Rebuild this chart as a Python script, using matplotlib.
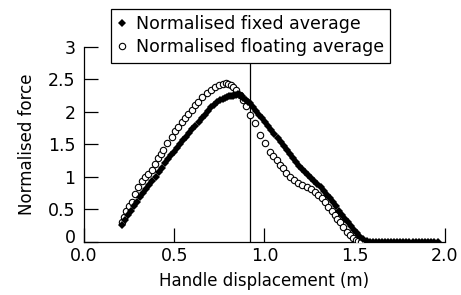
import matplotlib as mpl
mpl.use('Agg')
import matplotlib.pyplot as plt
from matplotlib.ticker import FixedLocator, FixedFormatter
from matplotlib.transforms import ScaledTranslation

# data #########################################

# normalised fixed average (filled diamonds)
fixed_x = [0.210, 0.227, 0.244, 0.261, 0.278, 0.295, 0.312, 0.329, 0.346, 0.363,
           0.380, 0.397, 0.414, 0.431, 0.448, 0.465, 0.482, 0.499, 0.516, 0.533,
           0.550, 0.567, 0.584, 0.601, 0.618, 0.635, 0.652, 0.669, 0.686, 0.703,
           0.720, 0.737, 0.754, 0.768, 0.780, 0.792, 0.804, 0.814, 0.824, 0.834,
           0.844, 0.854, 0.864, 0.874, 0.884, 0.896, 0.908, 0.920, 0.937, 0.954,
           0.971, 0.988, 1.005, 1.022, 1.039, 1.056, 1.073, 1.090, 1.107, 1.124,
           1.141, 1.158, 1.175, 1.192, 1.209, 1.226, 1.243, 1.260, 1.277, 1.294,
           1.311, 1.328, 1.345, 1.362, 1.379, 1.396, 1.413, 1.430, 1.447, 1.464,
           1.481, 1.498, 1.515, 1.532, 1.549, 1.566, 1.583, 1.600, 1.617, 1.634,
           1.651, 1.668, 1.685, 1.702, 1.719, 1.736, 1.753, 1.770, 1.787, 1.804,
           1.821, 1.838, 1.855, 1.872, 1.889, 1.906, 1.923, 1.940, 1.960]
fixed_y = [0.26, 0.33, 0.41, 0.48, 0.55, 0.62, 0.69, 0.75, 0.81, 0.87,
           0.94, 1.00, 1.07, 1.14, 1.21, 1.27, 1.33, 1.39, 1.45, 1.51,
           1.57, 1.62, 1.67, 1.73, 1.79, 1.85, 1.91, 1.96, 2.02, 2.07,
           2.11, 2.15, 2.18, 2.20, 2.21, 2.23, 2.24, 2.24, 2.25, 2.26,
           2.26, 2.27, 2.26, 2.24, 2.22, 2.19, 2.16, 2.13, 2.08, 2.02,
           1.96, 1.90, 1.84, 1.78, 1.72, 1.66, 1.60, 1.53, 1.47, 1.41,
           1.35, 1.29, 1.23, 1.17, 1.12, 1.08, 1.03, 0.99, 0.94, 0.89,
           0.84, 0.78, 0.72, 0.67, 0.61, 0.55, 0.48, 0.42, 0.36, 0.30,
           0.24, 0.18, 0.13, 0.08, 0.04, 0.01, 0.00, 0.00, 0.00, 0.00,
           0.00, 0.00, 0.00, 0.00, 0.00, 0.00, 0.00, 0.00, 0.00, 0.00,
           0.00, 0.00, 0.00, 0.00, 0.00, 0.00, 0.00, 0.00, 0.00]

# normalised floating average (open circles)
float_x = [0.209, 0.223, 0.236, 0.250, 0.264, 0.282, 0.301, 0.320, 0.338, 0.357,
           0.375, 0.394, 0.412, 0.426, 0.440, 0.463, 0.486, 0.505, 0.523, 0.542,
           0.560, 0.579, 0.597, 0.615, 0.633, 0.656, 0.680, 0.703, 0.726, 0.749,
           0.772, 0.786, 0.800, 0.814, 0.827, 0.845, 0.864, 0.880, 0.896, 0.920,
           0.947, 0.975, 1.003, 1.030, 1.049, 1.068, 1.086, 1.104, 1.122, 1.141,
           1.164, 1.187, 1.210, 1.234, 1.257, 1.280, 1.298, 1.317, 1.336, 1.354,
           1.372, 1.391, 1.405, 1.418, 1.437, 1.455, 1.474, 1.492, 1.506, 1.520,
           1.535]
float_y = [0.30, 0.38, 0.47, 0.55, 0.62, 0.74, 0.85, 0.93, 1.00, 1.05,
           1.11, 1.20, 1.29, 1.36, 1.42, 1.52, 1.62, 1.70, 1.77, 1.84,
           1.90, 1.97, 2.03, 2.10, 2.16, 2.23, 2.29, 2.34, 2.38, 2.41,
           2.43, 2.44, 2.43, 2.42, 2.39, 2.33, 2.26, 2.18, 2.09, 1.95,
           1.83, 1.65, 1.52, 1.39, 1.32, 1.26, 1.19, 1.13, 1.06, 1.00,
           0.95, 0.90, 0.87, 0.85, 0.81, 0.77, 0.72, 0.67, 0.61, 0.54,
           0.48, 0.42, 0.36, 0.31, 0.23, 0.16, 0.10, 0.06, 0.03, 0.01,
           0.00]

marker_line_x = 0.92  # vertical reference line

x_ticks = [0.0, 0.5, 1.0, 1.5, 2.0]
x_ticklabels = ['0.0', '0.5', '1.0', '1.5', '2.0']
y_ticks = [0, 0.5, 1, 1.5, 2, 2.5, 3]
y_ticklabels = ['0', '0.5', '1', '1.5', '2', '2.5', '3']

# figure #######################################

plt.rcParams['font.family'] = 'DejaVu Sans'
fig = plt.figure(figsize=(4.61, 2.95), dpi=100)
ax = fig.add_axes([0.182, 0.18, 0.783, 0.661])

ax.plot(float_x, float_y, linestyle='none', marker='o', markersize=4.6,
        markerfacecolor='white', markeredgecolor='black', markeredgewidth=0.8,
        label='Normalised floating average', zorder=3)
ax.plot(fixed_x, fixed_y, linestyle='none', marker='D', markersize=4.0,
        color='black', markeredgewidth=0, label='Normalised fixed average', zorder=4)
ax.plot([marker_line_x, marker_line_x], [0, 3], color='black', linewidth=0.9, zorder=2)

ax.set_xlim(0, 2)
ax.set_ylim(0, 3)
for s in ['top', 'right']:
    ax.spines[s].set_visible(False)
for s in ['left', 'bottom']:
    ax.spines[s].set_linewidth(0.9)
ax.xaxis.set_major_locator(FixedLocator(x_ticks))
ax.xaxis.set_major_formatter(FixedFormatter(x_ticklabels))
ax.yaxis.set_major_locator(FixedLocator(y_ticks))
ax.yaxis.set_major_formatter(FixedFormatter(y_ticklabels))
ax.tick_params(axis='both', direction='in', length=10, width=0.9, labelsize=12.5)
ax.tick_params(axis='x', pad=4)
ax.tick_params(axis='y', pad=6)

# lift the "0" on the y axis a little so it clears "0.0"
zero_lbl = ax.get_yticklabels()[0]
zero_lbl.set_transform(zero_lbl.get_transform() + ScaledTranslation(0, 4 / 72, fig.dpi_scale_trans))

ax.set_xlabel('Handle displacement (m)', fontsize=12, labelpad=5)
ax.set_ylabel('Normalised force', fontsize=12, labelpad=9)

h, l = ax.get_legend_handles_labels()
leg = fig.legend(h[::-1], l[::-1], loc='upper left', bbox_to_anchor=(0.241, 0.969),
                 fontsize=12.5, frameon=True, fancybox=False, handlelength=0.6,
                 handletextpad=0.5, borderpad=0.35, labelspacing=0.3, borderaxespad=0)
leg.get_frame().set_edgecolor('black')
leg.get_frame().set_linewidth(0.9)
leg.get_frame().set_alpha(1)

plt.savefig('out.png', dpi=100)
